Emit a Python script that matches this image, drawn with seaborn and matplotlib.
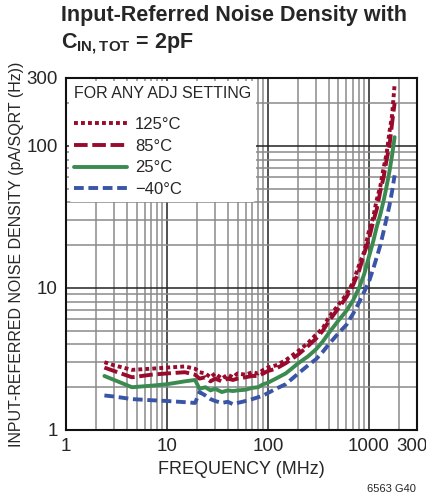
import matplotlib
matplotlib.use("Agg")
import matplotlib.pyplot as plt
from matplotlib.ticker import FixedLocator, LogLocator, NullFormatter
import numpy as np
import pandas as pd
import seaborn as sns

# frequency points (MHz)
freq = [2.4, 3, 4.5, 7, 10, 15, 19, 21, 24, 27, 30, 35, 40, 45, 50, 60, 70, 80, 90, 100,
        120, 150, 200, 250, 300, 350, 400, 500, 600, 700, 800, 900, 1000, 1100, 1200,
        1300, 1400, 1500, 1600, 1700, 1800]

# noise density (pA/sqrt(Hz))
noise_125 = [3.0, 2.85, 2.65, 2.7, 2.75, 2.8, 2.7, 2.55, 2.5, 2.35, 2.5, 2.3, 2.45, 2.35, 2.5,
             2.45, 2.55, 2.5, 2.65, 2.75, 2.85, 3.1, 3.6, 4.1, 4.7, 5.2, 6.2, 7.6, 9.0, 11.0,
             14.5, 18.0, 25.0, 31, 42, 52, 70, 88, 125, 165, 270]
noise_85 = [2.75, 2.6, 2.35, 2.45, 2.5, 2.55, 2.45, 2.3, 2.35, 2.2, 2.3, 2.2, 2.3, 2.25, 2.3,
            2.35, 2.4, 2.4, 2.5, 2.6, 2.7, 2.95, 3.4, 3.9, 4.4, 5.0, 5.8, 7.2, 8.6, 10.5,
            13.2, 17.5, 22.0, 29, 36, 48, 60, 80, 100, 145, 200]
noise_25 = [2.4, 2.25, 2.0, 2.05, 2.1, 2.2, 2.25, 1.95, 2.0, 1.9, 1.95, 1.85, 1.9, 1.88, 1.9,
            1.92, 1.98, 2.0, 2.1, 2.15, 2.3, 2.5, 2.95, 3.3, 3.7, 4.2, 4.8, 5.9, 6.9, 8.2,
            10.0, 12.5, 16.5, 21, 27, 33, 41, 52, 66, 86, 115]
noise_m40 = [1.75, 1.72, 1.65, 1.62, 1.6, 1.57, 1.55, 1.85, 1.75, 1.65, 1.6, 1.55, 1.58, 1.52,
             1.55, 1.6, 1.65, 1.7, 1.75, 1.82, 1.95, 2.1, 2.5, 2.85, 3.15, 3.55, 4.0, 4.8, 5.5,
             6.6, 7.9, 9.4, 11.0, 13.5, 16.5, 20, 25, 31, 38, 48, 62]

temps = ["125°C", "85°C", "25°C", "−40°C"]
colors = {"125°C": "#9a0a2c", "85°C": "#9a0a2c", "25°C": "#3b8b50", "−40°C": "#3a55a8"}
dashes = {"125°C": (1.0, 0.8), "85°C": (3.5, 1.2), "25°C": "", "−40°C": (2.5, 1.2)}

xticks = [1, 10, 100, 1000, 3000]
xticklabels = ["1", "10", "100", "1000", "3000"]
yticks = [1, 10, 100, 300]
yticklabels = ["1", "10", "100", "300"]

frames = []
for t, vals in zip(temps, [noise_125, noise_85, noise_25, noise_m40]):
    frames.append(pd.DataFrame({"freq": freq, "noise": vals, "temp": t}))
df = pd.concat(frames, ignore_index=True)

sns.set_style("ticks")
plt.rcParams["font.family"] = ["Liberation Sans", "DejaVu Sans"]

fig = plt.figure(figsize=(4.27, 5.0), dpi=100)
ax = fig.add_axes([0.1546, 0.14, 0.822, 0.704])

sns.lineplot(data=df, x="freq", y="noise", hue="temp", style="temp", palette=colors,
             dashes=dashes, hue_order=temps, style_order=temps, linewidth=2.8,
             sort=False, estimator=None, ax=ax)

ax.set_xscale("log")
ax.set_yscale("log")
ax.set_xlim(1, 3000)
ax.set_ylim(1, 300)

ax.xaxis.set_major_locator(FixedLocator(xticks))
ax.set_xticklabels(xticklabels)
ax.yaxis.set_major_locator(FixedLocator(yticks))
ax.set_yticklabels(yticklabels)
ax.xaxis.set_minor_locator(LogLocator(base=10, subs=np.arange(2, 10)))
ax.yaxis.set_minor_locator(LogLocator(base=10, subs=np.arange(2, 10)))
ax.xaxis.set_minor_formatter(NullFormatter())
ax.yaxis.set_minor_formatter(NullFormatter())
ax.tick_params(which="both", length=0, labelsize=13.5, pad=6)

ax.grid(which="major", color="#222222", linewidth=1.1)
ax.grid(which="minor", color="#8a8a8a", linewidth=1.1)
ax.set_axisbelow(True)
for s in ax.spines.values():
    s.set_linewidth(1.5)
    s.set_color("#111111")

ax.set_xlabel("FREQUENCY (MHz)", fontsize=13)
ax.set_ylabel("INPUT-REFERRED NOISE DENSITY (pA/SQRT (Hz))", fontsize=11.5, labelpad=2)

handles, labels = ax.get_legend_handles_labels()
leg = ax.legend(handles, labels, title="FOR ANY ADJ SETTING", loc="upper left",
                fontsize=12, title_fontsize=11.5, frameon=True, facecolor="white",
                edgecolor="none", framealpha=1, handlelength=3.2, handletextpad=0.5,
                borderpad=0.3, labelspacing=0.4, borderaxespad=0.15)
leg._legend_box.align = "left"
leg._legend_box.sep = 12

fig.text(0.143, 0.99, "Input-Referred Noise Density with\nC$_{\\mathregular{IN,TOT}}$ = 2pF",
         fontsize=15.5, fontweight="bold", ha="left", va="top", linespacing=1.3)
fig.text(0.975, 0.012, "6563 G40", fontsize=8, ha="right", va="bottom")

fig.savefig("out.png", dpi=100)
